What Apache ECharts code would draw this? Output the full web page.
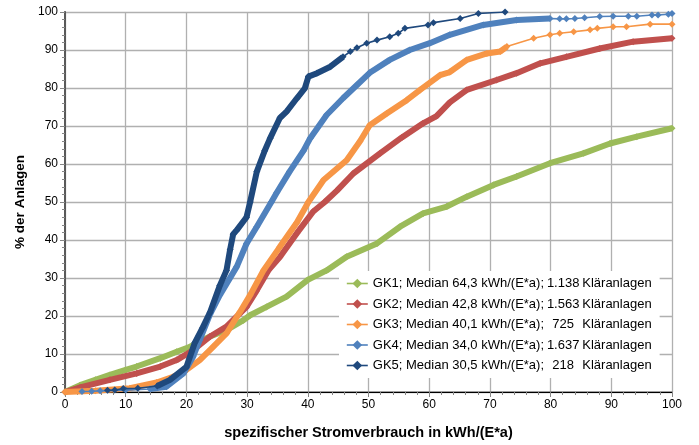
<!DOCTYPE html>
<html>
<head>
<meta charset="utf-8">
<script src="https://cdn.jsdelivr.net/npm/echarts@6/dist/echarts.min.js"></script>
<style>
html,body{margin:0;padding:0;background:#fff;}
#c{width:699px;height:445px;}
</style>
</head>
<body>
<div id="c"></div>
<script>
// ---- data (x = spezifischer Stromverbrauch, y = % der Anlagen) ----
const seriesNames = [
  'GK1; Median 64,3 kWh/(E*a); 1.138 Kläranlagen',
  'GK2; Median 42,8 kWh/(E*a); 1.563 Kläranlagen',
  'GK3; Median 40,1 kWh/(E*a); 725 Kläranlagen',
  'GK4; Median 34,0 kWh/(E*a); 1.637 Kläranlagen',
  'GK5; Median 30,5 kWh/(E*a); 218 Kläranlagen'
];
const gk1 = [[0,0],[2.5,1.8],[5,3.2],[7.4,4.5],[10,5.8],[11.8,6.7],[15.7,8.9],[18.4,10.6],[20.6,11.9],[22.2,13.3],[23.9,14.6],[26.6,16.3],[29.4,18.9],[30.5,20.2],[33.2,22.4],[36.5,25.1],[40,29.5],[43.1,32],[46.4,35.6],[51.4,39.1],[55.2,43.5],[59,47],[62.9,48.8],[66.2,51.4],[70.6,54.5],[74.4,56.7],[79.9,60.2],[85.4,62.8],[89.8,65.4],[94.2,67.2],[100,69.4]];
const gk2 = [[0,0],[2.5,1.2],[7.4,3.2],[11.8,4.9],[15.7,6.7],[18.4,8.4],[21.1,11],[23.9,14.6],[26.6,17.2],[29.9,22.4],[31.5,26.5],[33.5,32],[35.4,35.5],[38.2,41.8],[40.9,47.5],[42.8,50],[44.8,53],[47.5,57.5],[51.9,62.8],[55.5,67],[59,70.7],[61.2,72.6],[63.4,76.2],[66.2,79.5],[71.1,82.1],[74.4,83.9],[78.3,86.5],[82.6,88.2],[88.1,90.4],[93.6,92.2],[100,93.1]];
const gk3 = [[0,0],[5,0.3],[10.7,1],[15.1,2.5],[17.8,4],[20,5.8],[22.2,8.4],[24.4,11.9],[26.6,15.4],[28.8,21],[30.5,25.5],[32.7,32],[35.4,38.2],[38.2,44.6],[40.1,50],[42.6,55.8],[46.4,61],[48.6,66],[50.2,70.2],[53,73.3],[56.3,76.8],[58.5,79.5],[61.8,83.4],[63.4,84.2],[66.2,87.4],[69.5,89.1],[71.7,89.6],[72.8,90.9],[77.2,93.1],[79.9,94],[81.5,94.4],[83.8,94.8],[86.5,95.3],[87.7,95.7],[90.3,96.1],[92.5,96.1],[96.4,96.8],[100,96.8]];
const gk4 = [[2.8,0.1],[4.4,0.2],[5.8,0.3],[10,0.5],[14,0.8],[16.7,1.4],[19.5,4.9],[21.1,9.3],[22.2,13.7],[23.9,20.5],[25.5,25.5],[28.3,33],[29.9,39],[31.6,43.5],[34,50],[34.9,52.5],[37,58],[39.3,63.5],[40.4,66.8],[43.1,72.9],[45.8,77.3],[48.1,80.8],[50.2,84],[53.5,87.4],[56.8,90],[60.1,91.8],[63.4,94],[68.9,96.6],[74.4,97.9],[79.9,98.3],[81.5,98.2],[82.6,98.2],[84,98.3],[85.6,98.5],[88.1,98.8],[90.3,98.9],[92.8,98.9],[94.2,98.9],[96.7,99.2],[97.7,99.2],[99.4,99.4],[100,99.6]];
const gk5 = [[7,0.45],[8.2,0.5],[9.6,0.9],[12,1],[15.2,1.6],[17.3,3.2],[20,6.6],[21.4,13],[22.7,17],[23.9,21],[25.5,28],[26.6,32],[27.2,37.5],[27.7,41.5],[28.3,42.6],[29.9,46],[30.5,50],[31.6,58],[32.9,63.5],[33.8,66.8],[35.4,72.1],[36.5,73.8],[38.2,77.3],[39.5,79.9],[40.1,83],[41.5,83.9],[43.7,85.6],[45.8,88.2],[47,89.6],[48.1,90.6],[49.7,91.8],[51.4,92.6],[53.5,93.5],[54.9,94.4],[56,95.7],[59.8,96.6],[60.7,97.2],[65.1,98.3],[68.1,99.6],[72.5,100]];

const xMin = 0, xMax = 100, xStep = 10;
const yMin = 0, yMax = 100, yStep = 10;

// ---- styling ----
const colors = ['#9BBB59', '#C0504D', '#F79646', '#4F81BD', '#1F497D'];
const allData = [gk1, gk2, gk3, gk4, gk5];
// x-range where the markers are so dense they form a thick band
const denseRange = [[0, 100], [0, 100], [0, 73], [14, 80], [15, 46]];
const font = 'Liberation Sans, Arial, sans-serif';

const series = [];
allData.forEach((d, i) => {
  series.push({
    type: 'line', name: seriesNames[i], data: d,
    symbol: 'diamond', symbolSize: 7, showSymbol: true,
    lineStyle: { color: colors[i], width: 1.6 },
    itemStyle: { color: colors[i] },
    emphasis: { disabled: true }, animation: false, z: 2 + i
  });
  const r = denseRange[i];
  series.push({
    type: 'line', name: seriesNames[i],
    data: d.filter(p => p[0] >= r[0] && p[0] <= r[1]),
    symbol: 'none', showSymbol: false,
    lineStyle: { color: colors[i], width: 6 },
    itemStyle: { color: colors[i] },
    emphasis: { disabled: true }, animation: false, z: 2 + i
  });
});

const chart = echarts.init(document.getElementById('c'));
chart.setOption({
  animation: false,
  grid: { left: 65, right: 27, top: 12, bottom: 53 },
  legend: {
    data: seriesNames.map((n, i) => ({ name: n, lineStyle: { width: 1.6, color: colors[i] }, itemStyle: { color: colors[i] } })),
    orient: 'vertical', left: 339, top: 271,
    backgroundColor: '#ffffff', padding: [6, 8, 6, 7],
    itemGap: 7.5, itemWidth: 21, itemHeight: 12,
    selectedMode: false,
    formatter: function (name) {
      const parts = name.split('; ');
      const cnt = parts[2].split(' ');
      return '{a|' + parts[0] + '; ' + parts[1] + '; }{b|' + cnt[0] + '}{a| ' + cnt[1] + '}';
    },
    textStyle: {
      fontFamily: font, fontSize: 13, color: '#000',
      rich: {
        a: { fontFamily: font, fontSize: 13, color: '#000', lineHeight: 14 },
        b: { fontFamily: font, fontSize: 13, color: '#000', width: 31, align: 'right', lineHeight: 14 }
      }
    }
  },
  xAxis: [{
    type: 'value', min: xMin, max: xMax, interval: xStep,
    name: 'spezifischer Stromverbrauch in kWh/(E*a)', nameLocation: 'middle', nameGap: 33,
    nameTextStyle: { fontFamily: font, fontSize: 14.5, fontWeight: 'bold', color: '#000' },
    axisLine: { show: true, onZero: false, lineStyle: { color: '#868686', width: 1.5 } },
    axisTick: { show: true, length: 5, inside: false, lineStyle: { color: '#868686' } },
    minorTick: { show: true, splitNumber: 5, length: 3, lineStyle: { color: '#868686' } },
    axisLabel: { fontFamily: font, fontSize: 12, color: '#000', margin: 7 },
    splitLine: { show: true, lineStyle: { color: '#b0b0b0', width: 1.3 } }
  }, {
    type: 'value', min: xMin, max: xMax, position: 'top',
    axisLine: { show: true, lineStyle: { color: '#000', width: 1 } },
    axisTick: { show: false }, axisLabel: { show: false }, splitLine: { show: false }
  }],
  yAxis: [{
    type: 'value', min: yMin, max: yMax, interval: yStep,
    name: '% der Anlagen', nameLocation: 'middle', nameGap: 37,
    nameTextStyle: { fontFamily: font, fontSize: 13.5, fontWeight: 'bold', color: '#000' },
    axisLine: { show: true, lineStyle: { color: '#868686', width: 1.5 } },
    axisTick: { show: true, length: 5, lineStyle: { color: '#868686' } },
    minorTick: { show: true, splitNumber: 5, length: 3, lineStyle: { color: '#868686' } },
    axisLabel: { fontFamily: font, fontSize: 12, color: '#000', margin: 7 },
    splitLine: { show: true, lineStyle: { color: '#b0b0b0', width: 1.3 } }
  }, {
    type: 'value', min: yMin, max: yMax, position: 'right',
    axisLine: { show: true, lineStyle: { color: '#595959', width: 2 } },
    axisTick: { show: false }, axisLabel: { show: false }, splitLine: { show: false }
  }],
  series: series
});
</script>
</body>
</html>
